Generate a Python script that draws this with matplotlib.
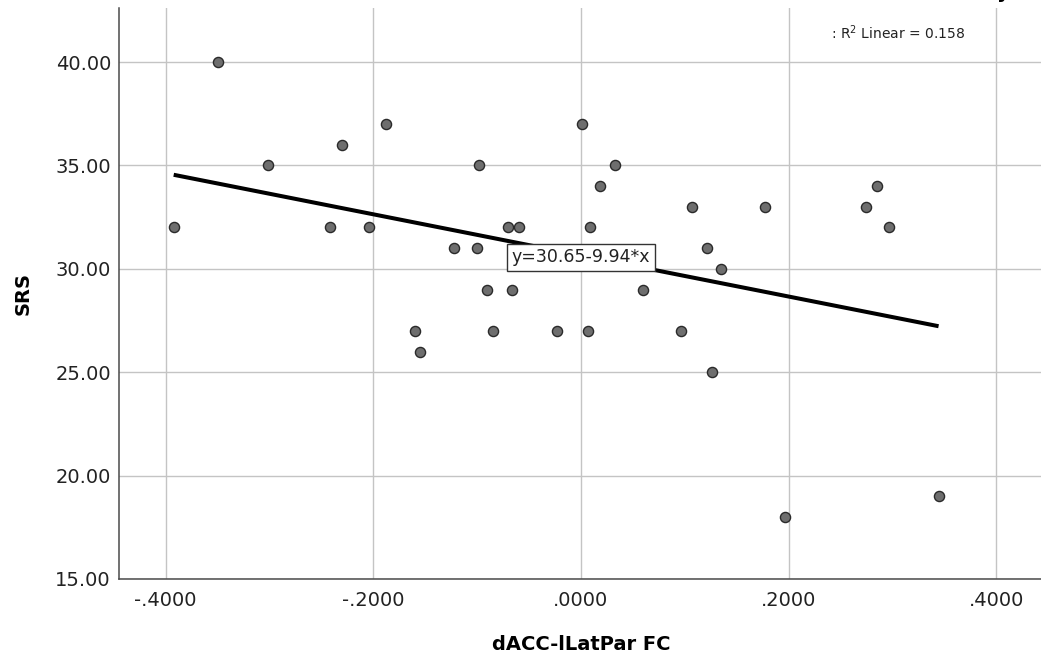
import matplotlib
matplotlib.use("Agg")
import matplotlib.pyplot as plt
import numpy as np

# ---- data ----
fc_values = [-0.3923, -0.3493, -0.3015, -0.2415, -0.2305, -0.2039, -0.1875,
             -0.1596, -0.1553, -0.1223, -0.0999, -0.0982, -0.0902, -0.0850,
             -0.0700, -0.0662, -0.0597, -0.0228, 0.0010, 0.0065, 0.0090,
             0.0183, 0.0330, 0.0597, 0.0963, 0.1066, 0.1214, 0.1262, 0.1351,
             0.1775, 0.1968, 0.2745, 0.2854, 0.2966, 0.3445]
srs_values = [32, 40, 35, 32, 36, 32, 37,
              27, 26, 31, 31, 35, 29, 27,
              32, 29, 32, 27, 37, 27, 32,
              34, 35, 29, 27, 33, 31, 25, 30,
              33, 18, 33, 34, 32, 19]
fit_intercept = 30.65
fit_slope = -9.94
r2_linear = 0.158

x_ticks = [-0.4, -0.2, 0.0, 0.2, 0.4]
x_tick_labels = ["-.4000", "-.2000", ".0000", ".2000", ".4000"]
y_ticks = [15, 20, 25, 30, 35, 40]
y_tick_labels = ["15.00", "20.00", "25.00", "30.00", "35.00", "40.00"]
x_label = "dACC-lLatPar FC"
y_label = "SRS"

# ---- figure ----
W, H = 1041, 655
fig = plt.figure(figsize=(W / 100, H / 100), dpi=100)
left_px, right_px, top_px, bottom_px = 119.3, 1043.0, 7.5, 579.0
ax = fig.add_axes([left_px / W, 1 - bottom_px / H,
                   (right_px - left_px) / W, (bottom_px - top_px) / H])

ax.set_xlim(-0.4447, 0.4451)
ax.set_ylim(15, 42.64)

ax.set_xticks(x_ticks)
ax.set_xticklabels(x_tick_labels)
ax.set_yticks(y_ticks)
ax.set_yticklabels(y_tick_labels)
ax.tick_params(axis="both", length=0, labelsize=14, colors="#222222")
ax.tick_params(axis="x", pad=9)
ax.tick_params(axis="y", pad=6)

ax.grid(True, color="#c4c4c4", linewidth=1.0)
ax.set_axisbelow(True)
for s in ("top", "right"):
    ax.spines[s].set_visible(False)
for s in ("left", "bottom"):
    ax.spines[s].set_color("#4a4a4a")
    ax.spines[s].set_linewidth(1.1)

# points
ax.plot(fc_values, srs_values, linestyle="none", marker="o", markersize=7.3,
        markerfacecolor="#6e6e6e", markeredgecolor="#2a2a2a",
        markeredgewidth=1.0, zorder=3)

# fit line over the data range
xs = np.array([min(fc_values), max(fc_values)])
ax.plot(xs, fit_intercept + fit_slope * xs, color="black", linewidth=2.9,
        solid_capstyle="butt", zorder=4)

# equation label
ax.text(0.0, 30.55, f"y={fit_intercept:.2f}-{abs(fit_slope):.2f}*x",
        ha="center", va="center", fontsize=12.5, color="#222222", zorder=5,
        bbox=dict(boxstyle="square,pad=0.25", facecolor="white",
                  edgecolor="#333333", linewidth=1.0))

# R^2 annotation
fig.text(898 / W, 1 - 33 / H, rf": R$^2$ Linear = {r2_linear:.3f}",
         ha="center", va="center", fontsize=10, color="#222222")

# cut-off text at the very top right (only its tail shows)
fig.text(1003 / W, 1 + 1.5 / H, "y", ha="center", va="baseline",
         fontsize=14, fontweight="bold", color="black")

ax.set_xlabel(x_label, fontsize=14, fontweight="bold", labelpad=18)
ax.set_ylabel(y_label, fontsize=14, fontweight="bold", labelpad=16)

fig.savefig("out.png", dpi=100, facecolor="white")
